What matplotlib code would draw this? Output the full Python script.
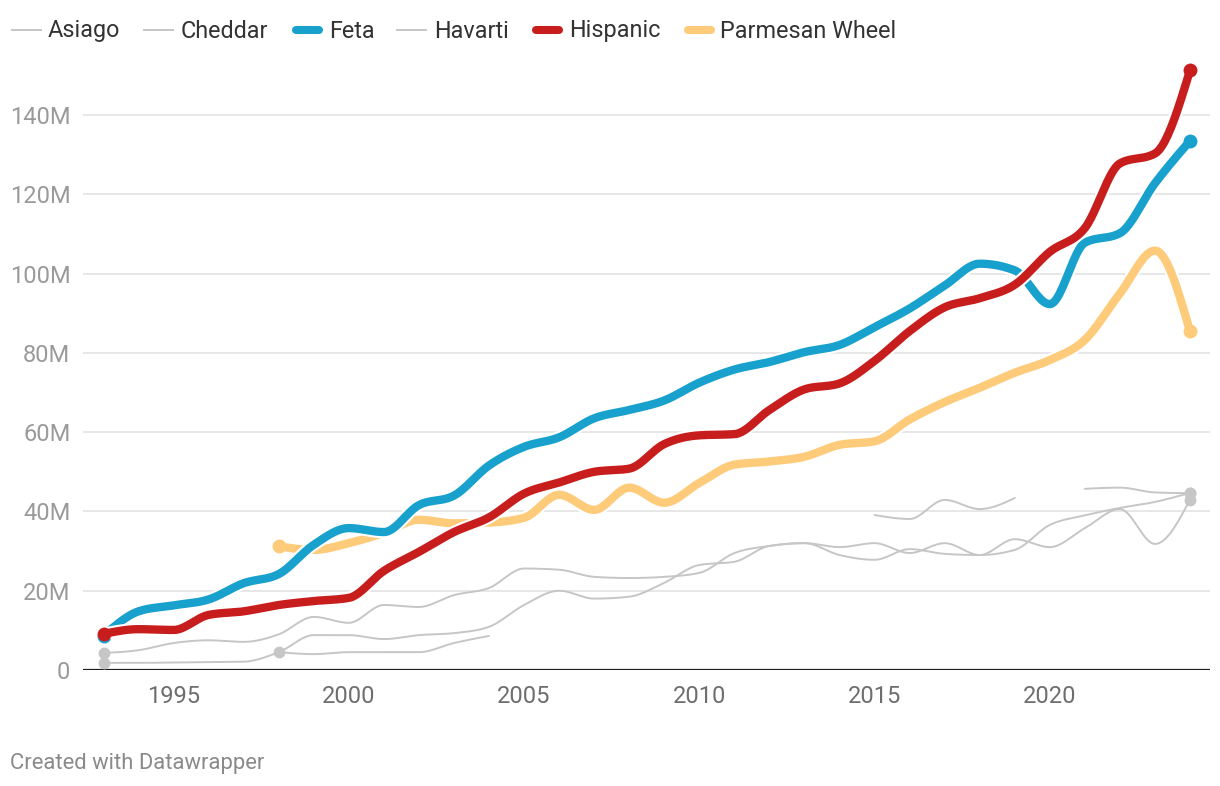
import numpy as np
import matplotlib
matplotlib.use("Agg")
import matplotlib.pyplot as plt
import matplotlib.patheffects as pe
from matplotlib.lines import Line2D

plt.rcParams['font.family'] = ['Roboto', 'DejaVu Sans']

nan = np.nan
years = list(range(1993, 2025))

# values in millions
asiago = [1.8, 1.8, 1.9, 2.0, 2.1, 4.5, 8.8, 8.8, 7.8, 8.8, 9.3, 10.9, 16.4, 20.0, 18.0, 18.5,
          22.0, 26.5, 27.3, 31.3, 32.0, 31.0, 32.0, 29.5, 32.0, 29.0, 33.0, 31.0, 35.8, 40.6, 31.8, 43.0]
cheddar = [4.3, 5.0, 6.8, 7.5, 7.1, 9.0, 13.4, 11.9, 16.4, 15.9, 18.9, 20.7, 25.6, 25.3, 23.5, 23.2,
           23.5, 24.5, 29.5, 31.3, 32.0, 29.0, 27.8, 30.5, 29.3, 29.0, 30.3, 36.6, 39.0, 40.9, 42.4, 44.7]
havarti = [nan, nan, nan, nan, nan, 4.5, 4.0, 4.5, 4.5, 4.5, 6.8, 8.6, nan, nan, nan, nan,
           nan, nan, nan, nan, nan, nan, 39.1, 38.1, 42.9, 40.6, 43.4, nan, 45.7, 46.0, 44.8, 44.6]
feta = [8.6, 14.8, 16.3, 17.8, 21.9, 24.2, 31.6, 35.8, 34.8, 41.6, 44.0, 51.6, 56.3, 58.7, 63.5, 65.6,
        68.0, 72.5, 75.8, 77.7, 80.2, 82.0, 86.5, 91.2, 97.0, 102.5, 100.8, 92.3, 107.8, 110.2, 122.8, 133.5]
hispanic = [9.1, 10.3, 10.1, 13.9, 14.8, 16.4, 17.4, 18.2, 25.0, 29.8, 34.8, 38.5, 44.5, 47.3, 50.0, 50.8,
            57.0, 59.2, 59.5, 65.6, 70.8, 72.3, 78.0, 85.5, 91.5, 93.8, 97.2, 105.5, 111.5, 127.8, 130.3, 151.3]
parmesan = [nan, nan, nan, nan, nan, 31.2, 30.3, 32.0, 34.6, 37.9, 37.0, 37.2, 38.4, 44.2, 40.4, 46.0,
            42.2, 47.2, 51.8, 52.6, 53.8, 56.8, 57.7, 63.2, 67.6, 71.2, 75.0, 78.2, 83.3, 95.0, 105.8, 85.4]

y_ticks = [0, 20, 40, 60, 80, 100, 120, 140]
x_ticks = [1995, 2000, 2005, 2010, 2015, 2020]

GRAY = '#c6c6c6'
series = [
    ('Asiago', asiago, GRAY, 'thin'),
    ('Cheddar', cheddar, GRAY, 'thin'),
    ('Feta', feta, '#18a1cd', 'thick'),
    ('Havarti', havarti, GRAY, 'thin'),
    ('Hispanic', hispanic, '#c71e1d', 'thick'),
    ('Parmesan Wheel', parmesan, '#fecb7a', 'thick'),
]


def monotone_curve(x, y, n=24):
    # same idea as d3.curveMonotoneX
    x = np.asarray(x, float)
    y = np.asarray(y, float)
    if len(x) < 2:
        return x, y
    h = np.diff(x)
    s = np.diff(y) / h
    t = np.zeros(len(x))
    for i in range(1, len(x) - 1):
        p = (s[i - 1] * h[i] + s[i] * h[i - 1]) / (h[i - 1] + h[i])
        t[i] = (np.sign(s[i - 1]) + np.sign(s[i])) * min(abs(s[i - 1]), abs(s[i]), 0.5 * abs(p))
    if len(x) == 2:
        t[0] = t[1] = s[0]
    else:
        t[0] = (3 * s[0] - t[1]) / 2
        t[-1] = (3 * s[-1] - t[-2]) / 2
    xs, ys = [], []
    u = np.linspace(0, 1, n, endpoint=False)
    for i in range(len(x) - 1):
        dx = h[i]
        h00 = 2 * u**3 - 3 * u**2 + 1
        h10 = u**3 - 2 * u**2 + u
        h01 = -2 * u**3 + 3 * u**2
        h11 = u**3 - u**2
        xs.append(x[i] + u * dx)
        ys.append(h00 * y[i] + h10 * dx * t[i] + h01 * y[i + 1] + h11 * dx * t[i + 1])
    xs.append([x[-1]])
    ys.append([y[-1]])
    return np.concatenate(xs), np.concatenate(ys)


def segments(x, y):
    x = np.asarray(x, float)
    y = np.asarray(y, float)
    ok = ~np.isnan(y)
    runs, start = [], None
    for i, v in enumerate(ok):
        if v and start is None:
            start = i
        if not v and start is not None:
            runs.append((start, i))
            start = None
    if start is not None:
        runs.append((start, len(y)))
    return [(x[a:b], y[a:b]) for a, b in runs]


def draw_series(ax, name, values, color, kind, z):
    lw = 6.0 if kind == 'thick' else 1.4
    ms = 10 if kind == 'thick' else 8.5
    effects = [pe.Stroke(linewidth=lw + 3, foreground='white'), pe.Normal()] if kind == 'thick' else None
    for sx, sy in segments(years, values):
        cx, cy = monotone_curve(sx, sy)
        ax.plot(cx, cy, color=color, lw=lw, solid_capstyle='round', solid_joinstyle='round',
                zorder=z, path_effects=effects, clip_on=False)
    arr = np.asarray(values, float)
    idx = np.where(~np.isnan(arr))[0]
    ends = [idx[0], idx[-1]]
    ax.plot([years[i] for i in ends], [arr[i] for i in ends], 'o', color=color, ms=ms,
            mec='none', zorder=z + 0.1, clip_on=False)


def draw_legend(fig):
    W, H = 1220, 786
    swatch_x = [11, 143, 292, 396, 532, 684]
    text_x = [48, 181, 329, 434, 569, 720]
    y = 29.5
    for (name, _, color, kind), sx, tx in zip(series, swatch_x, text_x):
        lw = 5.8 if kind == 'thick' else 1.4
        x0 = sx + (4 if kind == 'thick' else 0)
        x1 = sx + (27 if kind == 'thick' else 31)
        fig.add_artist(Line2D([x0 / W, x1 / W], [1 - y / H, 1 - y / H], color=color, lw=lw,
                              solid_capstyle='round' if kind == 'thick' else 'butt',
                              transform=fig.transFigure))
        fig.text(tx / W, 1 - 37.5 / H, name, fontsize=16.8, color='#333333', va='baseline', ha='left')


def main():
    fig = plt.figure(figsize=(12.2, 7.86), dpi=100)
    ax = fig.add_axes([83 / 1220, 116 / 786, 1127 / 1220, 610 / 786])

    x_left = 1993 - 20.5 / 35.05
    x_right = 1993 + (1210 - 103.5) / 35.05
    ax.set_xlim(x_left, x_right)
    ax.set_ylim(0, 610 / 3.964)

    for v in y_ticks[1:]:
        ax.axhline(v, color='#e5e5e5', lw=1.3, zorder=0)
    ax.axhline(0, color='#1d1d1d', lw=1.6, zorder=1)

    for s in ax.spines.values():
        s.set_visible(False)

    ax.set_yticks(y_ticks)
    ax.set_yticklabels(['0' if v == 0 else f'{v}M' for v in y_ticks])
    ax.set_xticks(x_ticks)
    ax.set_xticklabels([str(v) for v in x_ticks])
    ax.tick_params(axis='y', length=0, pad=9, labelsize=17, labelcolor='#9a9a9a')
    ax.tick_params(axis='x', length=0, pad=11, labelsize=17, labelcolor='#6e6e6e')

    zorders = {'Asiago': 2, 'Cheddar': 2, 'Havarti': 2, 'Parmesan Wheel': 3, 'Feta': 4, 'Hispanic': 5}
    for name, values, color, kind in series:
        draw_series(ax, name, values, color, kind, zorders[name])

    draw_legend(fig)
    fig.text(10 / 1220, 1 - 769 / 786, 'Created with Datawrapper', fontsize=15.8,
             color='#8a8a8a', va='baseline', ha='left')

    fig.savefig('out.png', dpi=100, facecolor='white')


if __name__ == "__main__":
    main()
